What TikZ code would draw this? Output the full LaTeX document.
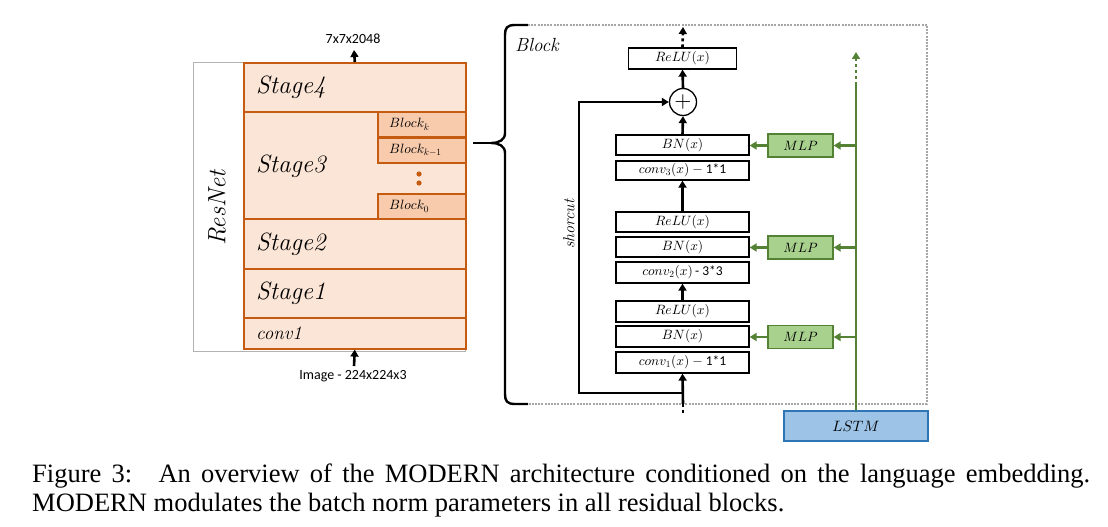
\documentclass[tikz,border=0pt]{standalone}
\DeclareFontShape{OML}{cmm}{m}{it}{<-> cmmi10}{}
\DeclareFontShape{OMS}{cmsy}{m}{n}{<-> cmsy10}{}
\DeclareFontShape{OT1}{cmr}{m}{n}{<-> cmr10}{}
\usepackage{fontspec}
\newfontfamily\calib{Carlito}
\newfontfamily\capfont{Liberation Serif}
\usetikzlibrary{arrows.meta}
\definecolor{ofill}{HTML}{FBE5D6}
\definecolor{oblk}{HTML}{F8CBAD}
\definecolor{oline}{HTML}{C55A11}
\definecolor{gfill}{HTML}{A9D18E}
\definecolor{gline}{HTML}{548235}
\definecolor{bfill}{HTML}{9DC3E6}
\definecolor{bline}{HTML}{2E75B6}
\definecolor{dgray}{HTML}{A6A6A6}
\tikzset{
 stagebox/.style={draw=oline, fill=ofill, line width=1.6pt, inner sep=0pt, anchor=north west, minimum width=222pt},
 blkbox/.style={draw=oline, fill=oblk, line width=1.6pt, inner sep=0pt, anchor=north west, minimum width=88pt, minimum height=25pt},
 stagelbl/.style={anchor=west, inner sep=0pt, font=\fontsize{25}{28}\selectfont\itshape},
 blklbl/.style={anchor=west, inner sep=0pt, font=\fontsize{13.5}{15}\selectfont},
 opbox/.style={draw=black, line width=1.3pt, fill=white, inner sep=0pt, minimum width=133pt, font=\fontsize{13.5}{15}\selectfont},
 barrow/.style={line width=2.6pt, -{Triangle[length=7pt,width=8pt]}},
 garrow/.style={draw=gline, line width=2.6pt, -{Triangle[length=7pt,width=8pt]}},
 mlpbox/.style={draw=gline, fill=gfill, line width=1.3pt, minimum width=65pt, minimum height=23pt, inner sep=0pt, font=\fontsize{13.5}{15}\selectfont},
 sizelbl/.style={inner sep=0pt, font=\calib\fontsize{14}{16}\selectfont},
}
\begin{document}
\begin{tikzpicture}[x=1pt,y=-1pt]
\useasboundingbox (0,0) rectangle (1108,527);
% ResNet outer frame
\draw[gray!60, line width=0.8pt] (193,62) rectangle (465,351);
\node[inner sep=0pt, rotate=90, font=\fontsize{25}{28}\selectfont\itshape] (resnet) at (217,208) {ResNet};
% stages
\node[stagebox, minimum height=49pt] (s4) at (243,62) {};
\node[stagebox, minimum height=107pt] (s3) at (243,111) {};
\node[stagebox, minimum height=50pt] (s2) at (243,218) {};
\node[stagebox, minimum height=49pt] (s1) at (243,268) {};
\node[stagebox, minimum height=31pt] (c1) at (243,317) {};
\node[blkbox] (bk) at (377,111) {};
\node[blkbox] (bk1) at (377,137) {};
\node[blkbox] (b0) at (377,193) {};
\node[stagelbl] at ([xshift=13pt]s4.west) {Stage4};
\node[stagelbl] at ([xshift=13pt,yshift=-1pt]s3.west) {Stage3};
\node[stagelbl] at ([xshift=13pt]s2.west) {Stage2};
\node[stagelbl] at ([xshift=13pt]s1.west) {Stage1};
\node[stagelbl, font=\fontsize{19}{22}\selectfont\itshape] at ([xshift=13pt]c1.west) {conv1};
\node[blklbl] at ([xshift=12pt]bk.west) {$Block_k$};
\node[blklbl] at ([xshift=12pt]bk1.west) {$Block_{k-1}$};
\node[blklbl] at ([xshift=12pt]b0.west) {$Block_0$};
\fill[oline] (419,174) circle (2.6pt) (419,183) circle (2.6pt);
% io
\coordinate (outtip) at (354,50);
\draw[barrow] (s4.north) -- (outtip);
\node[sizelbl] (outl) at (353,39) {7x7x2048};
\coordinate (intail) at (354,366);
\draw[barrow] (intail) -- (c1.south);
\node[sizelbl] (inl) at (353,376) {Image - 224x224x3};
% brace
\coordinate (btip) at (491,143);
\coordinate (rtail) at (473,143);
\draw[line width=1.6pt] (rtail) -- (btip);
\draw[line width=2.4pt] (528,25) -- (515,25) .. controls (507,25) and (505,28) .. (505,35) -- (505,133) .. controls (505,140) and (499,143) .. (btip) .. controls (499,143) and (505,146) .. (505,153) -- (505,394) .. controls (505,401) and (507,404) .. (515,404) -- (528,404);
\draw[dgray, line width=2.2pt, dash pattern=on 2pt off 1.2pt] (528,25) -- (927,25) -- (927,404) -- (528,404);
\node[anchor=west, inner sep=0pt, font=\fontsize{19}{22}\selectfont\itshape] (blk) at (515,45) {Block};
% block ops
\node[opbox, minimum width=108pt, minimum height=21pt] (relu3) at (682.5,58.5) {$ReLU(x)$};
\node[circle, draw, line width=1.3pt, minimum size=27pt, inner sep=0pt, fill=white, font=\fontsize{22}{22}\selectfont] (plus) at (683,102) {$+$};
\node[opbox, minimum height=20pt] (bn3) at (682.5,145) {$BN(x)$};
\node[opbox, minimum height=19pt] (cv3) at (682.5,170.5) {$conv_3(x)-{}${\calib 1*1}};
\node[opbox, minimum height=20pt] (relu2) at (682.5,222) {$ReLU(x)$};
\node[opbox, minimum height=20pt] (bn2) at (682.5,247) {$BN(x)$};
\node[opbox, minimum height=21pt] (cv2) at (682.5,272.5) {$conv_2(x)$\,{\calib - 3*3}};
\node[opbox, minimum height=21pt] (relu1) at (682.5,311.5) {$ReLU(x)$};
\node[opbox, minimum height=21pt] (bn1) at (682.5,336.5) {$BN(x)$};
\node[opbox, minimum height=21pt] (cv1) at (682.5,362.5) {$conv_1(x)-{}${\calib 1*1}};
\draw[barrow] (bn3.north) -- (plus.south);
\draw[barrow] (plus.north) -- (relu3.south);
\coordinate (toptip) at (683,27);
\draw[line width=2.6pt, dash pattern=on 3pt off 3pt, -{Triangle[length=7pt,width=8pt]}] (relu3.north) -- (toptip);
\draw[barrow] (relu2.north) -- (cv3.south);
\draw[barrow] (relu1.north) -- (cv2.south);
\coordinate (inb) at (683,404);
\coordinate (inbot) at (683,413);
\coordinate (sc) at (683,393);
\coordinate (scl) at (579,393);
\draw[line width=2.6pt, dash pattern=on 3pt off 3pt] (inbot) -- (inb);
\draw[barrow] (inb) -- (cv1.south);
\draw[barrow] (sc) -- (scl) |- (plus.west);
\node[inner sep=0pt, rotate=90, font=\fontsize{16}{18}\selectfont\itshape] (scut) at (569,224) {shorcut};
% conditioning
\node[draw=bline, fill=bfill, line width=1.3pt, minimum width=144pt, minimum height=30pt, inner sep=0pt, font=\fontsize{15}{17}\selectfont] (lstm) at (856,426) {$LSTM$};
\coordinate (gdot) at (856,85);
\coordinate (gtop) at (856,52);
\draw[gline, line width=2.6pt] (lstm.north) -- (gdot);
\draw[gline, line width=2.6pt, dash pattern=on 3pt off 3pt, -{Triangle[length=7pt,width=8pt]}] (gdot) -- (gtop);
\node[mlpbox] (mlp3) at (800.5,145.5) {$MLP$};
\node[mlpbox] (mlp2) at (800.5,247.5) {$MLP$};
\node[mlpbox] (mlp1) at (800.5,337) {$MLP$};
\foreach \m/\b in {mlp3/bn3, mlp2/bn2, mlp1/bn1}{
  \draw[garrow] (\m.east -| lstm.north) -- (\m.east);
  \draw[garrow] (\m.west) -- (\m.west -| \b.east);
}
% caption
\node[anchor=base west, inner sep=0pt, font=\capfont\fontsize{26.5}{30}\selectfont] (cap1) at (32,482) {\makebox[1058pt][s]{Figure 3: \ An overview of the MODERN architecture conditioned on the language embedding.}};
\node[anchor=base west, inner sep=0pt, font=\capfont\fontsize{26.5}{30}\selectfont] (cap2) at (32,511) {MODERN modulates the batch norm parameters in all residual blocks.};
\end{tikzpicture}
\end{document}
